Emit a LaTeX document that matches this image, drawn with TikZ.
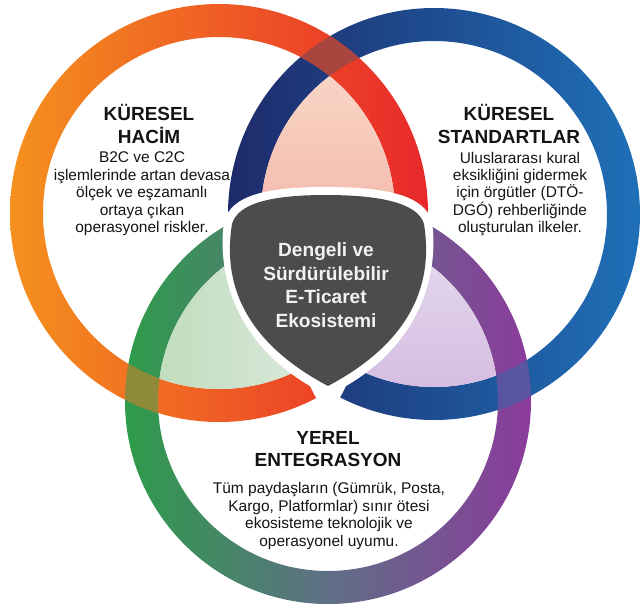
\documentclass[tikz,border=0pt]{standalone}
\usepackage{fontspec}
\setmainfont{Liberation Sans}
\usepackage{tikz}
\usepackage{xcolor}

\definecolor{orangec}{HTML}{F5911E}
\definecolor{redc}{HTML}{E8282B}
\definecolor{navyc}{HTML}{1E2A6A}
\definecolor{bluec}{HTML}{1F70B8}
\definecolor{greenc}{HTML}{2E9C4A}
\definecolor{purpc}{HTML}{8B3B9C}
\definecolor{graymid}{HTML}{5F6F86}
\definecolor{peachtop}{HTML}{F9DCCB}
\definecolor{peachbot}{HTML}{F3B6AA}
\definecolor{mintl}{HTML}{BEDCBA}
\definecolor{mintr}{HTML}{DCE9DE}
\definecolor{lavtop}{HTML}{E7DDEF}
\definecolor{lavbot}{HTML}{D4BBE0}
\definecolor{crosstop}{HTML}{A8453F}
\definecolor{crossleft}{HTML}{8E8A3A}
\definecolor{crossright}{HTML}{5A55A0}
\definecolor{shieldc}{HTML}{4C4C4C}
\definecolor{inkc}{HTML}{141414}
\definecolor{corec}{HTML}{F2F2F2}

\begin{document}
\begin{tikzpicture}[x=0.025cm,y=-0.025cm,
  head/.style={font=\fontsize{13.5}{16}\selectfont\bfseries,align=center,text=inkc,inner sep=0pt},
  body/.style={font=\fontsize{11}{12.4}\selectfont,align=center,text=inkc,inner sep=0pt},
  core/.style={font=\fontsize{13.6}{16.8}\selectfont\bfseries,align=center,text=corec,inner sep=0pt}]
  \useasboundingbox (0,0) rectangle (641,608);
  \fill[white] (0,0) rectangle (641,608);
  \coordinate (L) at (219,213);
  \coordinate (R) at (434,214);
  \coordinate (B) at (328,401);
  % rings
  \shade[even odd rule,left color=greenc,right color=purpc,middle color=graymid] (B) circle (203) (B) circle (170);
  \shade[even odd rule,left color=navyc,right color=bluec] (R) circle (206) (R) circle (173);
  \shade[even odd rule,left color=orangec,right color=redc] (L) circle (209) (L) circle (176);
  % lenses
  \begin{scope}
    \clip (L) circle (176);
    \clip (R) circle (173);
    \shade[top color=peachtop,bottom color=peachbot] (230,40) rectangle (420,240);
  \end{scope}
  \begin{scope}
    \clip (L) circle (176);
    \clip (B) circle (170);
    \shade[left color=mintl,right color=mintr] (140,220) rectangle (330,400);
  \end{scope}
  \begin{scope}
    \clip (R) circle (173);
    \clip (B) circle (170);
    \shade[top color=lavtop,bottom color=lavbot] (320,220) rectangle (510,400);
  \end{scope}
  % crossings
  \begin{scope}[even odd rule]
    \clip (0,0) rectangle (641,190);
    \clip (L) circle (209) (L) circle (176);
    \fill[crosstop] (R) circle (206) (R) circle (173);
  \end{scope}
  \begin{scope}[even odd rule]
    \clip (0,300) rectangle (250,608);
    \clip (L) circle (209) (L) circle (176);
    \fill[crossleft] (B) circle (203) (B) circle (170);
  \end{scope}
  \begin{scope}[even odd rule]
    \clip (400,300) rectangle (641,608);
    \clip (R) circle (206) (R) circle (173);
    \fill[crossright] (B) circle (203) (B) circle (170);
  \end{scope}
  % shield
  \fill[white] (326,187) .. controls (385,187) and (425,195) .. (432,222)
    .. controls (438,264) and (428,338) .. (346,386) -- (328,421) -- (310,386)
    .. controls (228,338) and (218,264) .. (224,222)
    .. controls (231,195) and (267,187) .. (326,187) -- cycle;
  \fill[shieldc] (326,195) .. controls (380,195) and (418,203) .. (424,224)
    .. controls (430,262) and (430,332) .. (328,386)
    .. controls (226,332) and (226,262) .. (232,224)
    .. controls (238,203) and (272,195) .. (326,195) -- cycle;
  \node[core] (eko) at (326,285) {Dengeli ve\\Sürdürülebilir\\E-Ticaret\\Ekosistemi};
  \node[head] (hacimT) at (149,124) {KÜRESEL\\HACİM};
  \node[body] (hacimX) at (142,194) {B2C ve C2C\\işlemlerinde artan devasa\\ölçek ve eşzamanlı\\ortaya çıkan\\operasyonel riskler.};
  \node[head] (stdT) at (509,124) {KÜRESEL\\STANDARTLAR};
  \node[body] (stdX) at (520,194) {Uluslararası kural\\eksikliğini gidermek\\için örgütler (DTÖ-\\DGÓ) rehberliğinde\\oluşturulan ilkeler.};
  \node[head] (yerelT) at (328,449) {YEREL\\ENTEGRASYON};
  \node[body] (yerelX) at (329,516) {Tüm paydaşların (Gümrük, Posta,\\Kargo, Platformlar) sınır ötesi\\ekosisteme teknolojik ve\\operasyonel uyumu.};
\end{tikzpicture}
\end{document}
